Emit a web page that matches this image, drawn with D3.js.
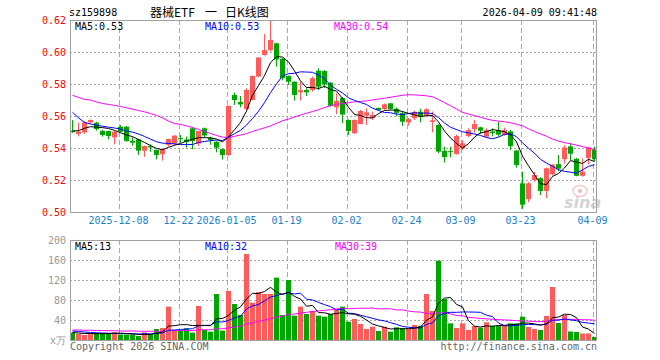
<!DOCTYPE html>
<html><head><meta charset="utf-8">
<script src="https://cdn.jsdelivr.net/npm/d3@7"></script>
<style>
html,body{margin:0;padding:0;background:#fff;}
svg{display:block;}
text{font-family:"DejaVu Sans Mono",monospace;font-size:10px;}
</style></head><body>
<svg id="c" width="660" height="360"></svg>
<script>
const dates = ["2025-11-26","2025-11-27","2025-11-28","2025-12-01","2025-12-02","2025-12-03","2025-12-04","2025-12-05","2025-12-08","2025-12-09","2025-12-10","2025-12-11","2025-12-12","2025-12-15","2025-12-16","2025-12-17","2025-12-18","2025-12-19","2025-12-22","2025-12-23","2025-12-24","2025-12-25","2025-12-26","2025-12-29","2025-12-30","2025-12-31","2026-01-05","2026-01-06","2026-01-07","2026-01-08","2026-01-09","2026-01-12","2026-01-13","2026-01-14","2026-01-15","2026-01-16","2026-01-19","2026-01-20","2026-01-21","2026-01-22","2026-01-23","2026-01-26","2026-01-27","2026-01-28","2026-01-29","2026-01-30","2026-02-02","2026-02-03","2026-02-04","2026-02-05","2026-02-06","2026-02-09","2026-02-10","2026-02-11","2026-02-12","2026-02-13","2026-02-24","2026-02-25","2026-02-26","2026-02-27","2026-03-02","2026-03-03","2026-03-04","2026-03-05","2026-03-06","2026-03-09","2026-03-10","2026-03-11","2026-03-12","2026-03-13","2026-03-16","2026-03-17","2026-03-18","2026-03-19","2026-03-20","2026-03-23","2026-03-24","2026-03-25","2026-03-26","2026-03-27","2026-03-30","2026-03-31","2026-04-01","2026-04-02","2026-04-03","2026-04-07","2026-04-08","2026-04-09"];

const opens = [0.5510,0.5490,0.5499,0.5563,0.5560,0.5508,0.5508,0.5469,0.5535,0.5535,
0.5447,0.5456,0.5385,0.5415,0.5390,0.5363,0.5421,0.5430,0.5465,0.5455,
0.5525,0.5430,0.5525,0.5466,0.5441,0.5395,0.5358,0.5733,0.5690,0.5645,
0.5702,0.5848,0.5983,0.6014,0.6056,0.5960,0.5852,0.5816,0.5750,0.5764,
0.5764,0.5885,0.5883,0.5810,0.5656,0.5714,0.5577,0.5494,0.5552,0.5604,
0.5588,0.5652,0.5646,0.5681,0.5647,0.5620,0.5562,0.5588,0.5629,0.5603,
0.5565,0.5546,0.5384,0.5382,0.5364,0.5400,0.5477,0.5519,0.5531,0.5473,
0.5505,0.5512,0.5485,0.5506,0.5386,0.5181,0.5082,0.5202,0.5213,0.5134,
0.5238,0.5301,0.5332,0.5412,0.5335,0.5228,0.5340,0.5392];

const highs = [0.5576,0.5560,0.5568,0.5580,0.5566,0.5515,0.5510,0.5510,0.5545,0.5540,
0.5469,0.5460,0.5416,0.5425,0.5392,0.5400,0.5460,0.5482,0.5483,0.5473,
0.5530,0.5510,0.5530,0.5472,0.5445,0.5400,0.5667,0.5748,0.5727,0.5775,
0.5855,0.5970,0.6114,0.6198,0.6060,0.5965,0.5855,0.5820,0.5816,0.5775,
0.5848,0.5900,0.5889,0.5815,0.5744,0.5720,0.5580,0.5580,0.5640,0.5650,
0.5629,0.5655,0.5680,0.5685,0.5655,0.5630,0.5590,0.5635,0.5647,0.5650,
0.5630,0.5550,0.5410,0.5410,0.5485,0.5450,0.5525,0.5577,0.5535,0.5525,
0.5525,0.5566,0.5529,0.5515,0.5390,0.5254,0.5190,0.5254,0.5220,0.5280,
0.5300,0.5358,0.5420,0.5433,0.5340,0.5336,0.5410,0.5410];

const lows = [0.5498,0.5475,0.5490,0.5555,0.5510,0.5473,0.5456,0.5425,0.5500,0.5440,
0.5416,0.5358,0.5347,0.5378,0.5331,0.5323,0.5410,0.5420,0.5435,0.5405,
0.5394,0.5415,0.5470,0.5423,0.5375,0.5330,0.5352,0.5671,0.5656,0.5640,
0.5700,0.5845,0.5980,0.6005,0.5910,0.5825,0.5796,0.5698,0.5698,0.5727,
0.5754,0.5764,0.5777,0.5660,0.5614,0.5558,0.5483,0.5490,0.5550,0.5546,
0.5577,0.5636,0.5640,0.5640,0.5600,0.5540,0.5542,0.5577,0.5562,0.5600,
0.5500,0.5370,0.5311,0.5344,0.5360,0.5390,0.5470,0.5497,0.5490,0.5465,
0.5475,0.5473,0.5479,0.5389,0.5279,0.5021,0.5063,0.5190,0.5108,0.5089,
0.5230,0.5257,0.5304,0.5327,0.5225,0.5223,0.5300,0.5320];

const closes = [0.5500,0.5504,0.5562,0.5577,0.5520,0.5483,0.5477,0.5504,0.5504,0.5446,
0.5435,0.5385,0.5414,0.5405,0.5358,0.5394,0.5458,0.5479,0.5460,0.5440,
0.5445,0.5508,0.5480,0.5452,0.5404,0.5358,0.5665,0.5702,0.5674,0.5765,
0.5852,0.5967,0.6014,0.6077,0.5955,0.5838,0.5816,0.5733,0.5764,0.5750,
0.5838,0.5785,0.5800,0.5666,0.5696,0.5611,0.5508,0.5577,0.5633,0.5625,
0.5608,0.5640,0.5675,0.5646,0.5622,0.5566,0.5582,0.5627,0.5598,0.5644,
0.5575,0.5379,0.5345,0.5377,0.5477,0.5431,0.5514,0.5552,0.5510,0.5514,
0.5495,0.5485,0.5514,0.5413,0.5296,0.5048,0.5181,0.5233,0.5133,0.5275,
0.5298,0.5273,0.5405,0.5366,0.5228,0.5254,0.5405,0.5332];

const volumes = [14.7,12,10,12,14,14,14,15,11,11,
11,8,15,11,22,24,66.7,20,20,23.3,
14.7,68,20,16.7,92,18.7,98,72,50,172,
74.7,96,92,92,124.7,50,120,48.7,66.7,52,
58,48.7,46.7,52,60,66.7,36.7,42,32,22,
26.7,18,26.7,16.7,25.3,24,22,30,28.7,92,
58,158.7,82,33.3,24,33.3,20,28,24.7,35.3,
28.7,28.7,28.7,33.3,33.3,46.7,26,22,20,48,
106,34,50,17,16,13,13,6];

// MA30 of price (window starts before the visible range)
const ma30 = [0.5731,0.5718,0.5706,0.5702,0.5690,0.5680,0.5674,0.5668,0.5662,0.5653,
0.5645,0.5636,0.5628,0.5617,0.5605,0.5590,0.5570,0.5555,0.5550,0.5540,
0.5530,0.5518,0.5505,0.5493,0.5480,0.5470,0.5466,0.5475,0.5483,0.5492,
0.5505,0.5517,0.5528,0.5540,0.5556,0.5572,0.5583,0.5596,0.5608,0.5619,
0.5630,0.5641,0.5655,0.5666,0.5675,0.5680,0.5685,0.5690,0.5693,0.5696,
0.5702,0.5708,0.5713,0.5719,0.5725,0.5731,0.5735,0.5734,0.5731,0.5728,
0.5722,0.5705,0.5685,0.5666,0.5645,0.5625,0.5614,0.5604,0.5594,0.5583,
0.5575,0.5570,0.5566,0.5560,0.5550,0.5540,0.5522,0.5505,0.5490,0.5475,
0.5458,0.5445,0.5435,0.5428,0.5420,0.5411,0.5402,0.5392];
const ma5Head = [0.5508,0.5510,0.5525,0.5535];
const ma10Head = [0.5625,0.5590,0.5562,0.5552,0.5545,0.5538,0.5532,0.5527,0.5520];
const volMa5Head = [15,14,13,13];
const volMa10Head = [18,17,16,15,14.5,14,13.5,13,13];
const volMa30Head = [20,20,19.5,19.5,19,19,18.5,18.5,18,18,18,17.5,17.5,17.5,17.5,17.5,19,19,19,19,19,20.5,20.5,20.5,22.5,22.5,24.5,26,27.3];

const priceTicks = [0.50,0.52,0.54,0.56,0.58,0.60,0.62];
const volTicks = [40,80,120,160,200];
const tickDates = ["2025-12-08","2025-12-22","2026-01-05","2026-01-19","2026-02-02","2026-02-24","2026-03-09","2026-03-23","2026-04-09"];
const tickLabels = ["2025-12-08","12-22","2026-01-05","01-19","02-02","02-24","03-09","03-23","04-09"];

const RED = "#ff5b5b", GREEN = "#00a600";
function movingAvg(vals, n, head){
  return vals.map((v,i)=> i < n-1 ? head[i] : d3.mean(vals.slice(i-n+1, i+1)));
}
const ma5 = movingAvg(closes,5,ma5Head);
const ma10 = movingAvg(closes,10,ma10Head);
const vma5 = movingAvg(volumes,5,volMa5Head);
const vma10 = movingAvg(volumes,10,volMa10Head);
const vma30 = movingAvg(volumes,30,volMa30Head);

const svg = d3.select("#c");
const L=70, R=597, PT=20, PB=212, VT=240, VB=340;
const x = d3.scaleBand().domain(dates).range([69,597]).padding(0);
const bw = x.bandwidth();
const cx = d => x(d) + bw/2;
const y = d3.scaleLinear().domain([0.50,0.62]).range([212.3,20.3]);
const yv = d3.scaleLinear().domain([0,200]).range([340,240]);

// grid
const grid = svg.append("g");
priceTicks.slice(1,-1).forEach(t=>{
  grid.append("line").attr("x1",L).attr("x2",R).attr("y1",Math.round(y(t))+0.5).attr("y2",Math.round(y(t))+0.5)
    .attr("stroke","#aaa").attr("stroke-dasharray","2,2");
});
volTicks.slice(0,-1).forEach(t=>{
  grid.append("line").attr("x1",L).attr("x2",R).attr("y1",Math.round(yv(t))+0.5).attr("y2",Math.round(yv(t))+0.5)
    .attr("stroke","#aaa").attr("stroke-dasharray","2,2");
});
tickDates.forEach(d=>{
  const xx = Math.round(x(d)+1.5)+0.5;
  [[PT,PB],[VT,VB]].forEach(([a,b])=>{
    grid.append("line").attr("x1",xx).attr("x2",xx).attr("y1",a).attr("y2",b)
      .attr("stroke","#aaa").attr("stroke-dasharray","5,3");
  });
});

// candles
const idx = d3.range(dates.length);
const cg = svg.append("g");
cg.selectAll("line.w").data(idx).join("line")
  .attr("x1",i=>Math.round(cx(dates[i]))+0.5).attr("x2",i=>Math.round(cx(dates[i]))+0.5)
  .attr("y1",i=>y(highs[i])).attr("y2",i=>y(lows[i]))
  .attr("stroke",i=>closes[i]>=opens[i]?RED:GREEN);
cg.selectAll("rect").data(idx).join("rect")
  .attr("x",i=>Math.round(cx(dates[i]))-2).attr("width",bw-1)
  .attr("y",i=>y(Math.max(opens[i],closes[i])))
  .attr("height",i=>Math.max(1,Math.abs(y(opens[i])-y(closes[i]))))
  .attr("fill",i=>closes[i]>=opens[i]?RED:GREEN);

// volume bars
svg.append("g").selectAll("rect").data(idx).join("rect")
  .attr("x",i=>Math.round(cx(dates[i]))-2).attr("width",bw-1)
  .attr("y",i=>yv(volumes[i])).attr("height",i=>yv(0)-yv(volumes[i]))
  .attr("fill",i=>closes[i]>=opens[i]?RED:GREEN);

// MA lines
function drawLine(vals, scale, color){
  svg.append("path").datum(idx)
    .attr("d", d3.line().x(i=>Math.round(cx(dates[i]))+0.5).y(i=>scale(vals[i])))
    .attr("fill","none").attr("stroke",color).attr("stroke-width",1);
}
drawLine(ma30,y,"#ff00ff");
drawLine(ma10,y,"#0000ff");
drawLine(ma5,y,"#000000");
drawLine(vma30,yv,"#ff00ff");
drawLine(vma10,yv,"#0000ff");
drawLine(vma5,yv,"#000000");

// watermark
const wm = svg.append("g").attr("opacity",0.55);
wm.append("ellipse").attr("cx",580).attr("cy",191).attr("rx",7).attr("ry",5.5).attr("fill","none").attr("stroke","#f0a0a0").attr("stroke-width",1.5);
wm.append("circle").attr("cx",580).attr("cy",191).attr("r",2).attr("fill","#e08080");
wm.append("text").attr("x",564).attr("y",208).text("sina")
  .style("font-family","DejaVu Sans").style("font-size","16px").style("font-weight","bold").style("font-style","italic").attr("fill","#b0b0b0");

// borders
svg.append("rect").attr("x",L+0.5).attr("y",PT+0.5).attr("width",R-L-1).attr("height",PB-PT).attr("fill","none").attr("stroke","#a0a0a0");
svg.append("rect").attr("x",L+0.5).attr("y",VT+0.5).attr("width",R-L-1).attr("height",VB-VT).attr("fill","none").attr("stroke","#a0a0a0");

// axes
const ya = svg.append("g").attr("transform",`translate(${L},0)`)
  .call(d3.axisLeft(y).tickValues(priceTicks).tickSize(0).tickPadding(4).tickFormat(d3.format(".2f")));
ya.select(".domain").remove();
ya.selectAll("text").attr("fill","#ff0000").style("font-size","10px").style("font-family","DejaVu Sans Mono");

const va = svg.append("g").attr("transform",`translate(${L},0)`)
  .call(d3.axisLeft(yv).tickValues(volTicks).tickSize(0).tickPadding(4));
va.select(".domain").remove();
va.selectAll("text").attr("fill","#999").style("font-size","10px").style("font-family","DejaVu Sans Mono");
svg.append("text").attr("x",66).attr("y",344).attr("text-anchor","end").attr("fill","#999").text("x万");

const xa = svg.append("g").attr("transform",`translate(-1.5,${PB})`)
  .call(d3.axisBottom(x).tickValues(tickDates).tickSize(0).tickPadding(5).tickFormat((d,i)=>tickLabels[i]));
xa.select(".domain").remove();
xa.selectAll("text").attr("fill","#2080d0").style("font-size","10px").style("font-family","DejaVu Sans Mono");

// header
svg.append("text").attr("x",69).attr("y",16).text("sz159898");
const title = svg.append("text").attr("y",17).style("font-family","'Noto Sans CJK SC'").style("font-size","12px");
title.append("tspan").attr("x",150).text("器械ETF");
title.append("tspan").attr("x",205).text("一");
title.append("tspan").attr("x",225).text("日K线图");
svg.append("text").attr("x",597).attr("y",16).attr("text-anchor","end").text("2026-04-09 09:41:48");

// MA legends
const last = dates.length-1;
const fl = v => Math.floor(v + 1e-6);
svg.append("text").attr("x",75).attr("y",30).attr("fill","#000").text("MA5:"+ma5[last].toFixed(2));
svg.append("text").attr("x",205).attr("y",30).attr("fill","#0000ff").text("MA10:"+ma10[last].toFixed(2));
svg.append("text").attr("x",334).attr("y",30).attr("fill","#ff00ff").text("MA30:"+ma30[last].toFixed(2));
svg.append("text").attr("x",75).attr("y",250).attr("fill","#000").text("MA5:"+fl(vma5[last]));
svg.append("text").attr("x",205).attr("y",250).attr("fill","#0000ff").text("MA10:"+fl(vma10[last]));
svg.append("text").attr("x",335).attr("y",250).attr("fill","#ff00ff").text("MA30:"+fl(vma30[last]));

// footer
svg.append("text").attr("x",70).attr("y",350).attr("fill","#666").text("Copyright 2026 SINA.COM");
svg.append("text").attr("x",597).attr("y",350).attr("text-anchor","end").attr("fill","#666").text("http://finance.sina.com.cn");
</script>
</body></html>
